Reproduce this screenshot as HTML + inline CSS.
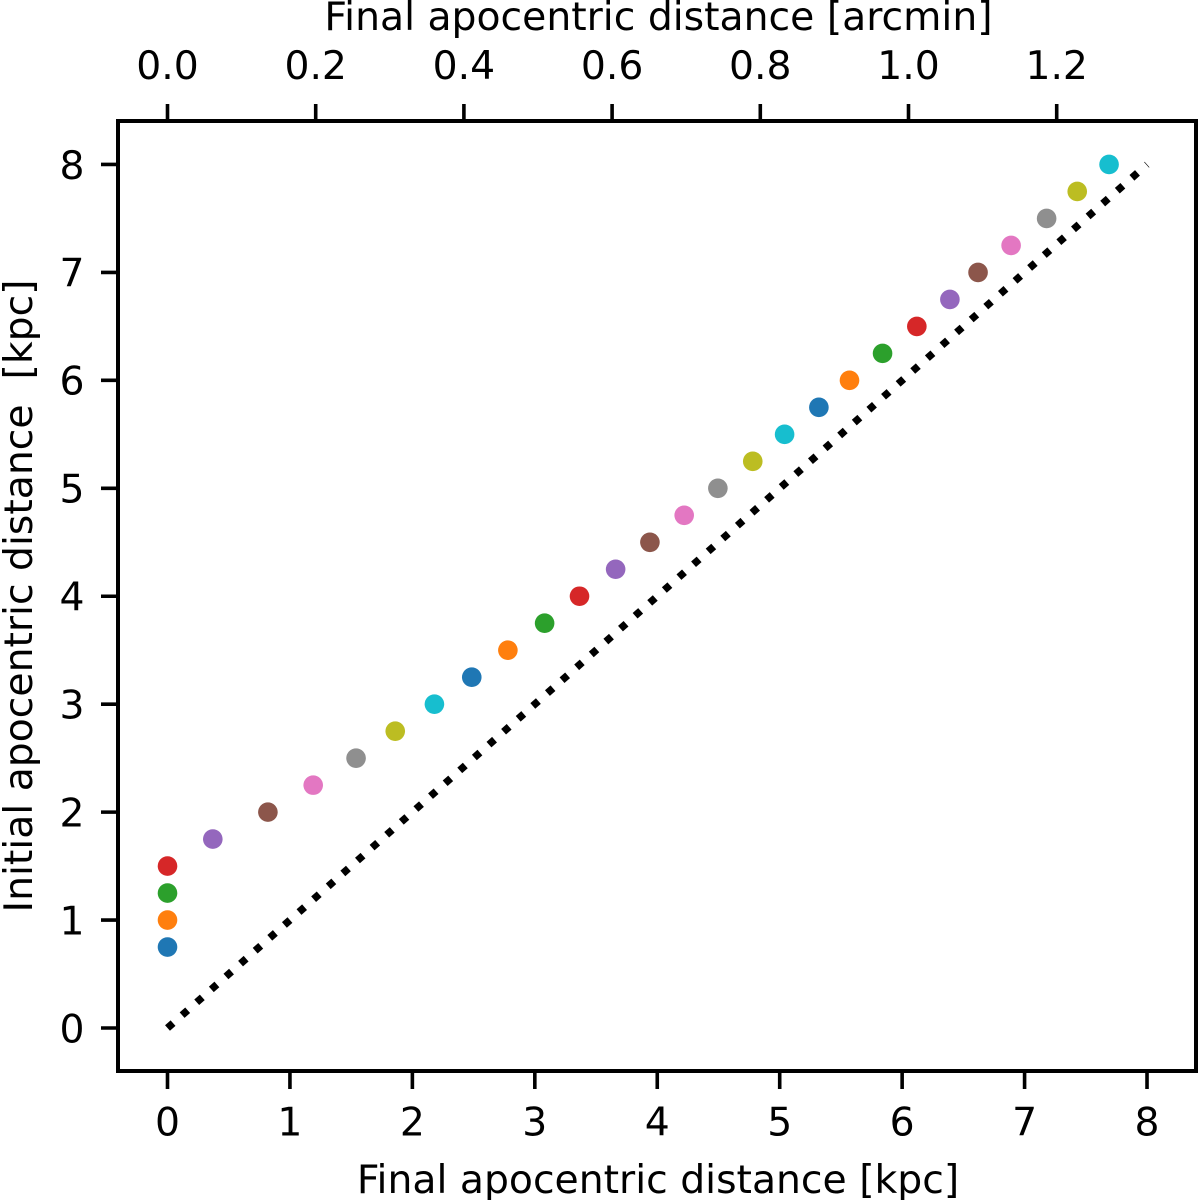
<!DOCTYPE html>
<html lang="en">
<head>
<meta charset="utf-8">
<title>Final vs initial apocentric distance</title>
<style>
html,body{margin:0;padding:0;background:#fff;width:1200px;height:1200px;overflow:hidden}
svg{display:block}
text{font-family:"DejaVu Sans",sans-serif;fill:#000;white-space:pre}
</style>
</head>
<body>
<svg id="chart" xmlns="http://www.w3.org/2000/svg" width="1200" height="1200" viewBox="0 0 1200 1200">
<rect x="0" y="0" width="1200" height="1200" fill="#fff"/>
<g id="identity"></g>
<g id="points"></g>
<rect x="118" y="121" width="1078" height="950" fill="none" stroke="#000" stroke-width="4"/>
<g id="ticks"></g>
<text x="658.5" y="30" font-size="39.3" text-anchor="middle">Final apocentric distance [arcmin]</text>
<text x="658" y="1193" font-size="39.3" text-anchor="middle">Final apocentric distance [kpc]</text>
<text transform="translate(32,596) rotate(-90)" font-size="39.3" text-anchor="middle">Initial apocentric distance  [kpc]</text>
</svg>
<script>
const finalKpc = [0, 0, 0, 0, 0.37, 0.82, 1.19, 1.54, 1.86, 2.18, 2.485, 2.78, 3.08, 3.365, 3.66, 3.94, 4.22, 4.495, 4.78, 5.04, 5.32, 5.57, 5.84, 6.12, 6.39, 6.62, 6.89, 7.18, 7.43, 7.69];
const initialKpc = [0.75, 1, 1.25, 1.5, 1.75, 2, 2.25, 2.5, 2.75, 3, 3.25, 3.5, 3.75, 4, 4.25, 4.5, 4.75, 5, 5.25, 5.5, 5.75, 6, 6.25, 6.5, 6.75, 7, 7.25, 7.5, 7.75, 8];
const colorCycle = ['#1f77b4', '#ff7f0e', '#2ca02c', '#d62728', '#9467bd', '#8c564b', '#e377c2', '#8f8f8f', '#bcbd22', '#17becf'];
const identityX = [0, 8];
const identityY = [0, 8];
const bottomTicks = [0, 1, 2, 3, 4, 5, 6, 7, 8];
const leftTicks = [0, 1, 2, 3, 4, 5, 6, 7, 8];
const topTicks = [0, 0.2, 0.4, 0.6, 0.8, 1.0, 1.2];

const SVG_NS = 'http://www.w3.org/2000/svg';
function xKpc(v) { return 167.5 + v * 122.44; }
function yKpc(v) { return 1028 - v * 107.94; }
function xArcmin(v) { return 167.5 + v * 741; }
function make(tag, parent, props) {
  const el = document.createElementNS(SVG_NS, tag);
  for (const k in props) el.setAttribute(k, props[k]);
  parent.appendChild(el);
  return el;
}

const identity = document.getElementById('identity');
const identityLine = make('line', identity, {
  x1: xKpc(identityX[0]), y1: yKpc(identityY[0]),
  x2: xKpc(identityX[1]), y2: yKpc(identityY[1]),
  stroke: '#000', 'stroke-width': 7.4, 'stroke-dasharray': '7.4 12.08'
});



const pointsGroup = document.getElementById('points');
finalKpc.forEach(function (v, i) {
  const c = make('circle', pointsGroup, {
    cx: xKpc(v), cy: yKpc(initialKpc[i]), r: 9.8,
    fill: colorCycle[i % colorCycle.length]
  });
  
  
});

const ticks = document.getElementById('ticks');
bottomTicks.forEach(function (v) {
  const m = make('line', ticks, { x1: xKpc(v), x2: xKpc(v), y1: 1071, y2: 1089, stroke: '#000', 'stroke-width': 3.6 });
  
  
  const t = make('text', ticks, { x: xKpc(v), y: 1135.5, 'font-size': 39.3, 'text-anchor': 'middle' });
  t.textContent = String(v);
  
  
});
leftTicks.forEach(function (v) {
  const m = make('line', ticks, { x1: 101, x2: 118, y1: yKpc(v), y2: yKpc(v), stroke: '#000', 'stroke-width': 3.6 });
  
  
  const t = make('text', ticks, { x: 84.5, y: yKpc(v) + 14.3, 'font-size': 39.3, 'text-anchor': 'end' });
  t.textContent = String(v);
  
  
});
topTicks.forEach(function (v) {
  const m = make('line', ticks, { x1: xArcmin(v), x2: xArcmin(v), y1: 104, y2: 121, stroke: '#000', 'stroke-width': 3.6 });
  
  
  const t = make('text', ticks, { x: xArcmin(v), y: 79, 'font-size': 39.3, 'text-anchor': 'middle' });
  t.textContent = v.toFixed(1);
  
  
});
</script>
</body>
</html>
